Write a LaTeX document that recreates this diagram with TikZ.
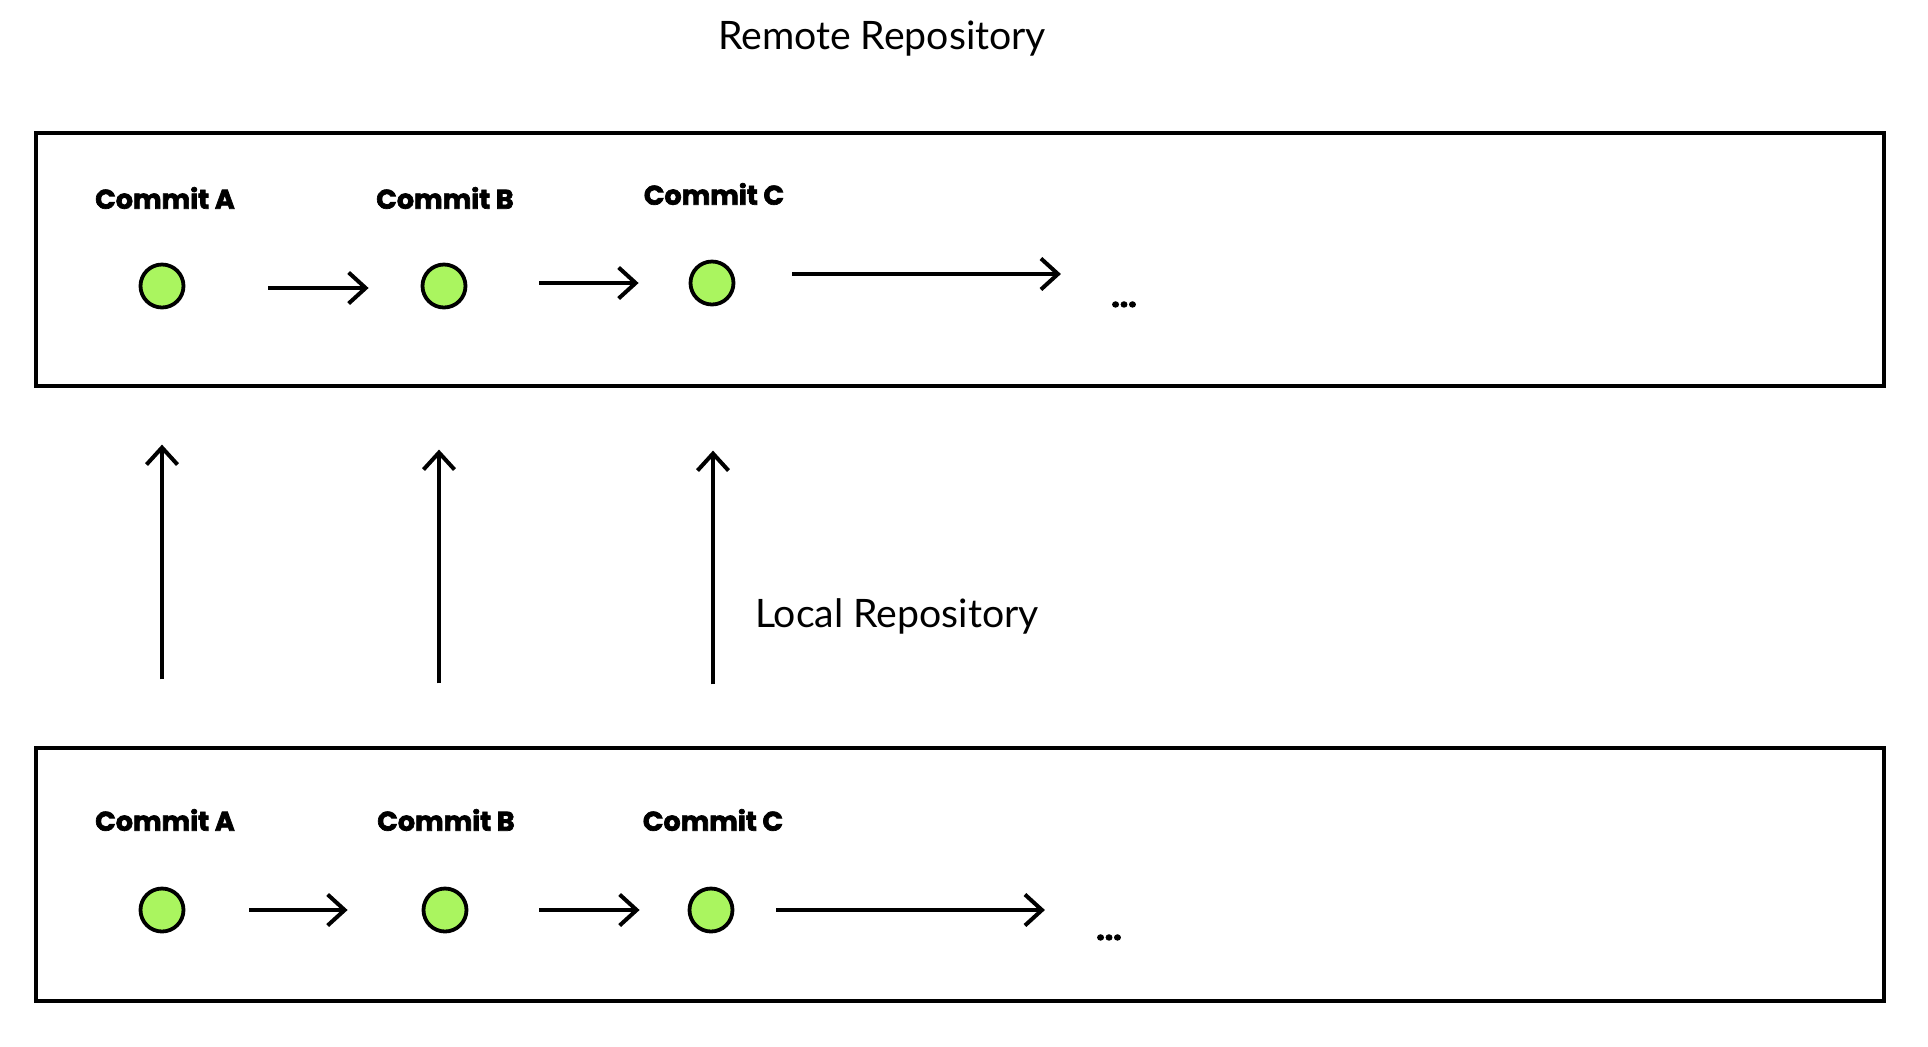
\documentclass[tikz,border=0pt]{standalone}
\usepackage{fontspec}
\setmainfont{Lato}
\newfontfamily\commitfont{Poppins}[BoldFeatures={FakeBold=2.5}]
\usetikzlibrary{arrows.meta,calc}
\definecolor{commitgreen}{RGB}{170,245,95}
\tikzset{
  repobox/.style={draw=black,line width=1.6pt,rectangle,inner sep=0pt,minimum width=924pt,minimum height=126.5pt},
  commitdot/.style={circle,draw=black,line width=1.9pt,fill=commitgreen,minimum size=21.5pt,inner sep=0pt},
  commitlabel/.style={font=\commitfont\bfseries\fontsize{13.5pt}{16pt}\selectfont,inner sep=0pt},
  repolabel/.style={font=\fontsize{19.6pt}{23pt}\selectfont,inner sep=0pt},
  dotslabel/.style={font=\commitfont\bfseries\fontsize{15pt}{18pt}\selectfont,inner sep=0pt,anchor=base},
  arr/.style={line width=2pt,-{Straight Barb[length=8.5pt,width=15.5pt,line width=2pt]}}
}
\begin{document}
\begin{tikzpicture}[x=0.5pt,y=-0.5pt]
\useasboundingbox (0,0) rectangle (1928,1046);
% titles
\node[repolabel] (remote) at (882,39) {Remote Repository};
\node[repolabel] (local) at (897,616) {Local Repository};
% boxes
\node[repobox] (upper) at (960,259.5) {};
\node[repobox] (lower) at (960,874.5) {};
% top row
\node[commitlabel] (tlA) at (165,198) {Commit A};
\node[commitlabel] (tlB) at (445,198) {Commit B};
\node[commitlabel] (tlC) at (714,194) {Commit C};
\node[commitdot] (tA) at (162,286) {};
\node[commitdot] (tB) at (444,286) {};
\node[commitdot] (tC) at (712,283) {};
\node[dotslabel] (tdots) at (1124,307) {...};
\draw[arr] ($(tA.east)+(83,2)$) -- ($(tB.west)+(-52,2)$);
\draw[arr] ($(tB.east)+(72,-3)$) -- ($(tC.west)+(-50,0)$);
\coordinate (ts) at ($(tC.east)+(57,-9)$);
\draw[arr] (ts) -- ($(ts -| tdots.west)+(-50,0)$);
% bottom row
\node[commitlabel] (blA) at (165,820) {Commit A};
\node[commitlabel] (blB) at (446,820) {Commit B};
\node[commitlabel] (blC) at (713,820) {Commit C};
\node[commitdot] (bA) at (162,910) {};
\node[commitdot] (bB) at (445,910) {};
\node[commitdot] (bC) at (711,910) {};
\node[dotslabel] (bdots) at (1109,940) {...};
\draw[arr] ($(bA.east)+(64,0)$) -- ($(bB.west)+(-74,0)$);
\draw[arr] ($(bB.east)+(71,0)$) -- ($(bC.west)+(-48,0)$);
\coordinate (bs) at ($(bC.east)+(42,0)$);
\draw[arr] (bs) -- ($(bs -| bdots.west)+(-51,0)$);
% vertical arrows
\draw[arr] ($(lower.north -| bA)+(0,-67)$) -- ($(upper.south -| bA)+(0,57)$);
\draw[arr] ($(lower.north -| tB)+(-5,-63)$) -- ($(upper.south -| tB)+(-5,62)$);
\draw[arr] ($(lower.north -| tC)+(1,-62)$) -- ($(upper.south -| tC)+(1,63)$);
\end{tikzpicture}
\end{document}
